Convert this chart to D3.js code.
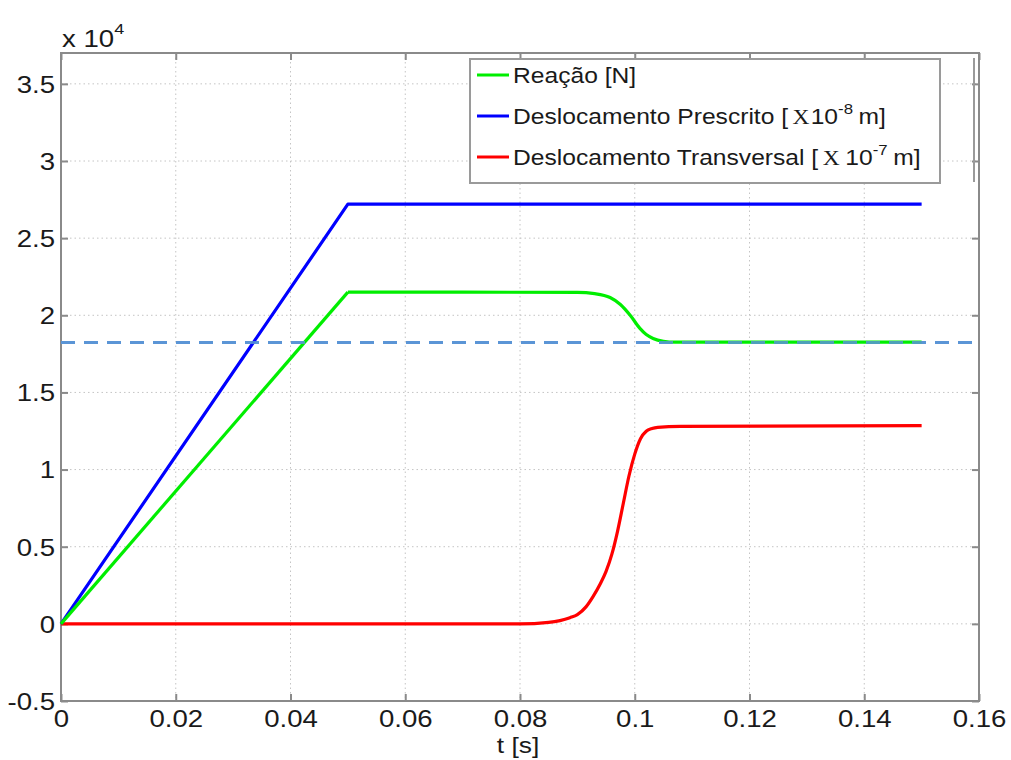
<!DOCTYPE html>
<html>
<head>
<meta charset="utf-8">
<script src="https://cdn.jsdelivr.net/npm/d3@7"></script>
<style>
  body { margin: 0; background: #fff; }
  svg { display: block; }
  text { font-family: "Liberation Sans", Arial, Helvetica, sans-serif; fill: #1a1a1a; }
</style>
</head>
<body>
<svg id="chart" width="1011" height="760"></svg>
<script>
// Time samples [s] and the three curves (values in units of 10^4)
const reacaoT   = [0, 0.05, 0.07, 0.09, 0.093, 0.0957, 0.0975, 0.0992, 0.1009, 0.102, 0.1032, 0.105, 0.107, 0.15];
const reacaoV   = [0, 2.15, 2.15, 2.148, 2.14, 2.115, 2.07, 2.0, 1.915, 1.875, 1.85, 1.832, 1.826, 1.826];

const prescritoT = [0, 0.05, 0.15];
const prescritoV = [0, 2.72, 2.72];

const transversalT = [0, 0.08, 0.085, 0.0887, 0.09, 0.0915, 0.0927, 0.094, 0.095, 0.096, 0.097, 0.098, 0.099, 0.1, 0.101, 0.102, 0.103, 0.104, 0.108, 0.15];
const transversalV = [0, 0, 0.01, 0.04, 0.06, 0.11, 0.175, 0.26, 0.34, 0.45, 0.6, 0.78, 0.96, 1.1, 1.2, 1.248, 1.266, 1.274, 1.28, 1.285];

// Reference level (dashed)
const referenceLevel = 1.824;

const xTicks = [0, 0.02, 0.04, 0.06, 0.08, 0.1, 0.12, 0.14, 0.16];
const xTickLabels = ["0", "0.02", "0.04", "0.06", "0.08", "0.1", "0.12", "0.14", "0.16"];
const yTicks = [-0.5, 0, 0.5, 1, 1.5, 2, 2.5, 3, 3.5];
const yTickLabels = ["-0.5", "0", "0.5", "1", "1.5", "2", "2.5", "3", "3.5"];

const legendLabels = ["Reação [N]", "Deslocamento Prescrito [", "Deslocamento Transversal ["];
const legendExponents = [null, "-8", "-7"];
const seriesColors = ["#00ee00", "#0000ff", "#ff0000"];

const svg = d3.select("#chart");
const L = 61, R = 979, T = 53, B = 701;
const x = d3.scaleLinear().domain([0, 0.16]).range([L, R]);
const y = d3.scaleLinear().domain([-0.5, 3.7]).range([B, T]);
const stretch = 1.2;
const axisGray = "#8a8a8a";
const tickFont = 23;

// grid
const grid = svg.append("g");
grid.selectAll("line.vx").data(xTicks.slice(1, -1)).join("line")
  .attr("x1", d => x(d)).attr("x2", d => x(d)).attr("y1", T).attr("y2", B)
  .attr("stroke", "#c4c4c4").attr("stroke-width", 1).attr("stroke-dasharray", "1.5,3");
grid.selectAll("line.hy").data(yTicks.slice(1)).join("line")
  .attr("x1", L).attr("x2", R).attr("y1", d => y(d)).attr("y2", d => y(d))
  .attr("stroke", "#c4c4c4").attr("stroke-width", 1).attr("stroke-dasharray", "1.5,3");

// axes (ticks pointing inward)
const xAxis = d3.axisBottom(x).tickValues(xTicks).tickSizeInner(-7).tickSizeOuter(0)
  .tickFormat((d, i) => xTickLabels[i]);
const gx = svg.append("g").attr("transform", `translate(0,${B})`).call(xAxis);
gx.select(".domain").remove();
gx.selectAll(".tick line").attr("stroke", axisGray).attr("stroke-width", 2);
gx.selectAll(".tick text").attr("y", 26).attr("dy", 0).attr("font-size", tickFont)
  .attr("fill", "#1a1a1a").attr("transform", `scale(${stretch},1)`)
  .style("font-family", "'Liberation Sans', Arial, sans-serif");

const yAxis = d3.axisLeft(y).tickValues(yTicks).tickSizeInner(-7).tickSizeOuter(0)
  .tickFormat((d, i) => yTickLabels[i]);
const gy = svg.append("g").attr("transform", `translate(${L},0)`).call(yAxis);
gy.select(".domain").remove();
gy.selectAll(".tick line").attr("stroke", axisGray).attr("stroke-width", 2);
gy.selectAll(".tick text").attr("x", -6 / stretch).attr("dy", "0.36em").attr("font-size", tickFont)
  .attr("fill", "#1a1a1a").attr("transform", `scale(${stretch},1)`)
  .style("font-family", "'Liberation Sans', Arial, sans-serif");

// top and right ticks
const topAxis = d3.axisTop(x).tickValues(xTicks).tickSizeInner(-7).tickSizeOuter(0).tickFormat("");
const gt = svg.append("g").attr("transform", `translate(0,${T})`).call(topAxis);
gt.select(".domain").remove();
gt.selectAll(".tick line").attr("stroke", axisGray).attr("stroke-width", 2);
const rightAxis = d3.axisRight(y).tickValues(yTicks).tickSizeInner(-7).tickSizeOuter(0).tickFormat("");
const gr = svg.append("g").attr("transform", `translate(${R},0)`).call(rightAxis);
gr.select(".domain").remove();
gr.selectAll(".tick line").attr("stroke", axisGray).attr("stroke-width", 2);

// frame
svg.append("rect").attr("x", L).attr("y", T).attr("width", R - L).attr("height", B - T)
  .attr("fill", "none").attr("stroke", axisGray).attr("stroke-width", 2);

// dashed reference level
const dashed = () => svg.append("line").attr("x1", L).attr("x2", R)
  .attr("y1", y(referenceLevel)).attr("y2", y(referenceLevel))
  .attr("stroke", "#5b95d6").attr("stroke-width", 3).attr("stroke-dasharray", "14,9");
dashed();

// curves: straight ramps, smooth transitions afterwards
const smooth = d3.line().x(d => x(d[0])).y(d => y(d[1])).curve(d3.curveMonotoneX);
const straight = d3.line().x(d => x(d[0])).y(d => y(d[1]));
const splitAt = (ts, vs, t0) => {
  const pts = d3.zip(ts, vs);
  return [pts.filter(p => p[0] <= t0), pts.filter(p => p[0] >= t0)];
};
const plotGroup = svg.append("g").attr("fill", "none").attr("stroke-width", 3.2)
  .attr("stroke-linejoin", "round");
plotGroup.append("path").datum(d3.zip(transversalT, transversalV))
  .attr("d", smooth).attr("stroke", seriesColors[2]);
plotGroup.append("path").datum(d3.zip(prescritoT, prescritoV))
  .attr("d", straight).attr("stroke", seriesColors[1]);
const [rampG, restG] = splitAt(reacaoT, reacaoV, 0.05);
plotGroup.append("path").datum(rampG).attr("d", straight).attr("stroke", seriesColors[0]);
plotGroup.append("path").datum(restG).attr("d", smooth).attr("stroke", seriesColors[0]);

// dashes stay visible on top of the settled reaction curve
dashed().attr("opacity", 0.85);

// exponent label
const expo = svg.append("text").attr("x", 0).attr("y", 0).attr("font-size", 23)
  .attr("transform", `translate(62,47) scale(${stretch},1)`);
expo.append("tspan").text("x 10");
expo.append("tspan").attr("font-size", 15).attr("dy", -13).text("4");

// x label
svg.append("text").attr("x", 0).attr("y", 0).attr("font-size", 22)
  .attr("text-anchor", "middle").attr("transform", `translate(518,753) scale(${stretch},1)`).text("t [s]");

// legend
const lg = svg.append("g");
lg.append("rect").attr("x", 470).attr("y", 59).attr("width", 470).attr("height", 124)
  .attr("fill", "#fff").attr("stroke", "#9a9a9a").attr("stroke-width", 2);
lg.append("line").attr("x1", 974).attr("x2", 974).attr("y1", 58).attr("y2", 182)
  .attr("stroke", "#9a9a9a").attr("stroke-width", 2);
const rowsY = [75, 116, 157];
legendLabels.forEach((lab, i) => {
  lg.append("line").attr("x1", 477).attr("x2", 509).attr("y1", rowsY[i]).attr("y2", rowsY[i])
    .attr("stroke", seriesColors[i]).attr("stroke-width", 3);
  const t = lg.append("text").attr("x", 0).attr("y", 0).attr("font-size", 22)
    .attr("transform", `translate(513,${rowsY[i] + 8}) scale(1.12,1)`);
  t.append("tspan").text(lab);
  if (legendExponents[i]) {
    t.append("tspan").attr("font-family", "'Liberation Serif', 'DejaVu Serif', serif")
      .attr("font-size", 21).attr("dx", 4).text("X");
    t.append("tspan").attr("dx", i === 2 ? 5 : 1).text("10");
    t.append("tspan").attr("font-size", 15).attr("dy", -10).text(legendExponents[i]);
    t.append("tspan").attr("dy", 10).attr("dx", 5).text("m]");
  }
});
</script>
</body>
</html>
